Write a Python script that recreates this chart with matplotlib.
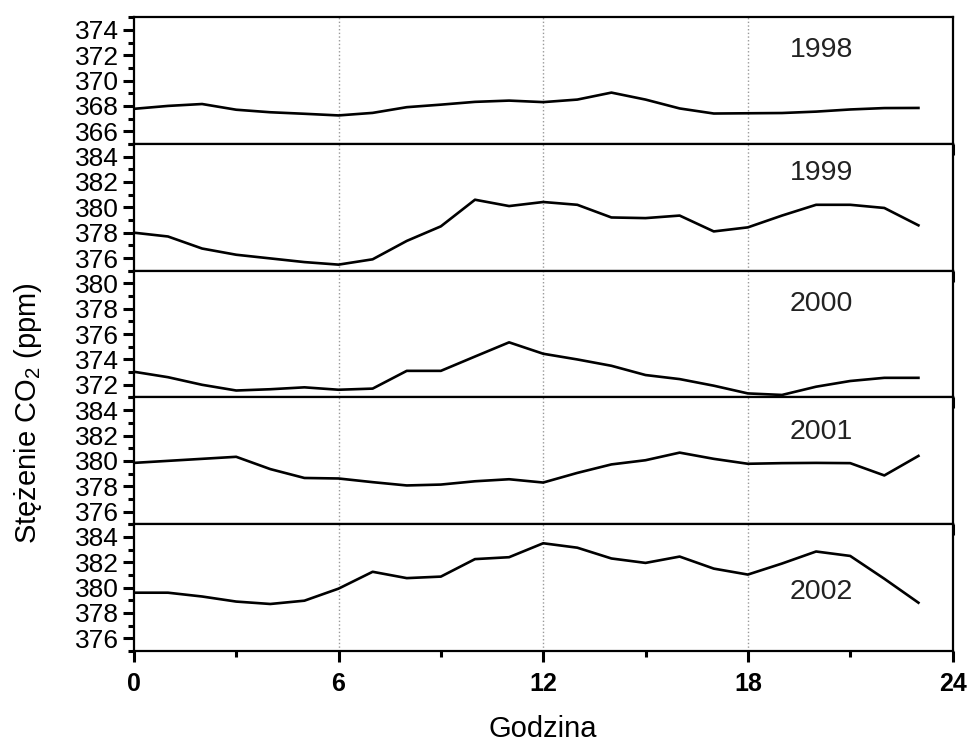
import numpy as np
import matplotlib
matplotlib.use("Agg")
import matplotlib.pyplot as plt
from matplotlib.ticker import MultipleLocator

plt.rcParams['font.family'] = ['Liberation Sans', 'DejaVu Sans']
plt.rcParams['mathtext.fontset'] = 'custom'
plt.rcParams['mathtext.rm'] = 'Liberation Sans'

# hour of day
hours = np.arange(24)

years = ['1998', '1999', '2000', '2001', '2002']

co2_1998 = [367.77, 368.0, 368.15, 367.7, 367.5, 367.38, 367.25, 367.45, 367.9, 368.1,
            368.32, 368.42, 368.3, 368.5, 369.05, 368.5, 367.8, 367.4, 367.42, 367.44,
            367.55, 367.72, 367.83, 367.84]
co2_1999 = [378.0, 377.7, 376.75, 376.26, 375.97, 375.68, 375.48, 375.9, 377.35, 378.5,
            380.6, 380.1, 380.42, 380.2, 379.2, 379.15, 379.35, 378.1, 378.42, 379.35,
            380.2, 380.2, 379.95, 378.58]
co2_2000 = [373.03, 372.6, 372.0, 371.55, 371.65, 371.8, 371.61, 371.7, 373.1, 373.1,
            374.23, 375.35, 374.45, 374.0, 373.5, 372.77, 372.45, 371.93, 371.32, 371.2,
            371.85, 372.3, 372.55, 372.55]
co2_2001 = [379.84, 380.0, 380.16, 380.32, 379.35, 378.65, 378.61, 378.32, 378.06, 378.13,
            378.39, 378.55, 378.29, 379.05, 379.72, 380.05, 380.65, 380.16, 379.77, 379.82,
            379.84, 379.82, 378.85, 380.39]
co2_2002 = [379.6, 379.6, 379.3, 378.9, 378.71, 378.97, 379.92, 381.25, 380.75, 380.87,
            382.25, 382.4, 383.5, 383.15, 382.3, 381.95, 382.45, 381.5, 381.03, 381.9,
            382.85, 382.5, 380.7, 378.81]
series = [co2_1998, co2_1999, co2_2000, co2_2001, co2_2002]

# y ranges of panels
y_lims = [(365, 375), (375, 385), (371, 381), (375, 385), (375, 385)]
# year label position in axes fraction
label_xy = [(0.84, 0.74), (0.84, 0.77), (0.84, 0.74), (0.84, 0.725), (0.84, 0.463)]

x_ticks = [0, 6, 12, 18, 24]

fig, axes = plt.subplots(5, 1, figsize=(9.7, 7.47), dpi=100, sharex=True)
fig.subplots_adjust(left=0.138, right=0.982, top=0.977, bottom=0.1285, hspace=0)

for i, ax in enumerate(axes):
    for g in [6, 12, 18]:
        ax.axvline(g, color='#999999', linestyle=':', linewidth=1.0, zorder=1)
    ax.plot(hours, series[i], color='black', linewidth=1.9, zorder=3)
    ax.set_xlim(0, 24)
    ax.set_ylim(*y_lims[i])
    ax.yaxis.set_minor_locator(MultipleLocator(1))
    ax.set_xticks(x_ticks)
    ax.xaxis.set_minor_locator(MultipleLocator(3))
    lo, hi = y_lims[i]
    ax.set_yticks(np.arange(lo + 1, hi, 2))
    for s in ax.spines.values():
        s.set_linewidth(1.6)
    ax.tick_params(axis='both', which='major', direction='out', length=8, width=2.2,
                   right=False, top=False)
    ax.tick_params(axis='both', which='minor', direction='out', length=4.5, width=2.2,
                   right=False, top=False)
    ax.tick_params(axis='y', labelsize=19, pad=2.5)
    ax.tick_params(axis='x', labelsize=18, pad=7)
    ax.text(label_xy[i][0], label_xy[i][1], years[i], transform=ax.transAxes,
            fontsize=20.5, ha='center', va='center', color='#222222')

for lab in axes[-1].get_xticklabels():
    lab.set_fontweight('bold')

axes[-1].set_xlabel('Godzina', fontsize=21, labelpad=14)
fig.text(0.029, 0.447, 'Stężenie CO$_\\mathregular{2}$ (ppm)', rotation=90,
         fontsize=21, ha='center', va='center')

plt.savefig('out.png', dpi=100)
